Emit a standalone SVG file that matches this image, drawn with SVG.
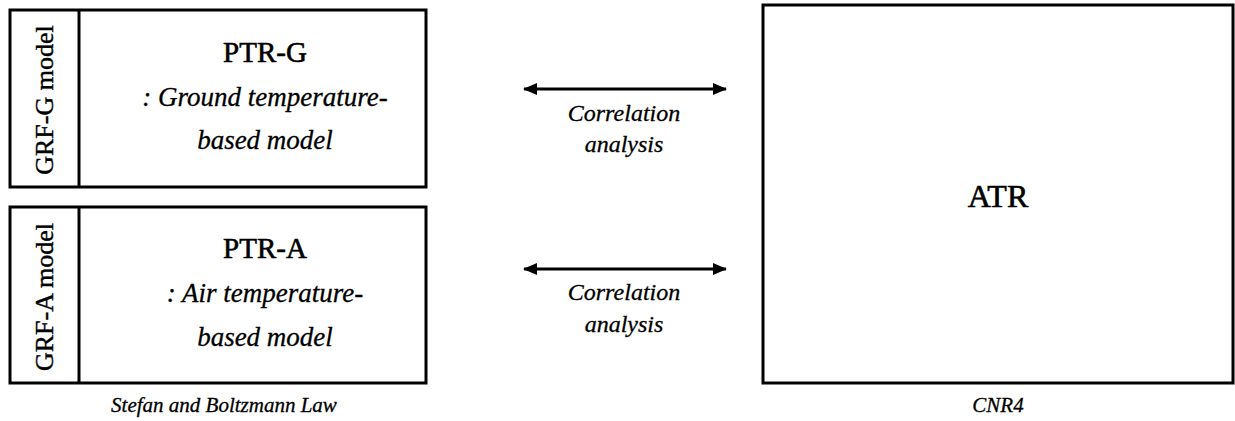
<svg xmlns="http://www.w3.org/2000/svg" width="1235" height="421" viewBox="0 0 1235 421">
<defs>
<style>
.box{fill:#fff;stroke:#000;stroke-width:3}
.div{stroke:#000;stroke-width:3}
.t{font-family:"Liberation Serif",serif;fill:#000;text-anchor:middle;stroke:#000;stroke-width:0.3}
.title{font-size:29px;stroke-width:0.6}
.it{font-style:italic;font-size:27px}
.side{font-size:26px;stroke-width:0.4}
.lab{font-style:italic;font-size:24px}
.cap{font-style:italic;font-size:21px}
.arr{stroke:#000;stroke-width:3;fill:none;marker-start:url(#ah);marker-end:url(#ah)}
</style>
<marker id="ah" viewBox="0 0 14 12" refX="13" refY="6" markerWidth="14" markerHeight="12" markerUnits="userSpaceOnUse" orient="auto-start-reverse">
<path d="M0,0 L14,6 L0,12 Z" fill="#000"/>
</marker>
</defs>
<rect width="1235" height="421" fill="#fff"/>
<g id="ptr-g">
<rect class="box" x="10" y="10" width="416" height="177"/>
<line class="div" x1="79" y1="10" x2="79" y2="187"/>
<text class="t side" transform="translate(53,100) rotate(-90)">GRF-G model</text>
<text class="t title" x="265" y="62">PTR-G</text>
<text class="t it" x="265" y="106">: Ground temperature-</text>
<text class="t it" x="265" y="149">based model</text>
</g>
<g id="ptr-a">
<rect class="box" x="10" y="207" width="416" height="176"/>
<line class="div" x1="79" y1="207" x2="79" y2="383"/>
<text class="t side" transform="translate(53,297) rotate(-90)">GRF-A model</text>
<text class="t title" x="265" y="258">PTR-A</text>
<text class="t it" x="265" y="302">: Air temperature-</text>
<text class="t it" x="265" y="346">based model</text>
<text class="t cap" x="224" y="412">Stefan and Boltzmann Law</text>
</g>
<g id="atr">
<rect class="box" x="763" y="5" width="470" height="378"/>
<text class="t title" x="998" y="207" style="font-size:32px">ATR</text>
<text class="t cap" x="998" y="412">CNR4</text>
</g>
<g id="connectors">
<line class="arr" x1="524" y1="89" x2="726" y2="89"/>
<line class="arr" x1="524" y1="269" x2="726" y2="269"/>
<text class="t lab" x="624" y="121">Correlation</text>
<text class="t lab" x="624" y="152">analysis</text>
<text class="t lab" x="624" y="300">Correlation</text>
<text class="t lab" x="624" y="332">analysis</text>
</g>
</svg>
